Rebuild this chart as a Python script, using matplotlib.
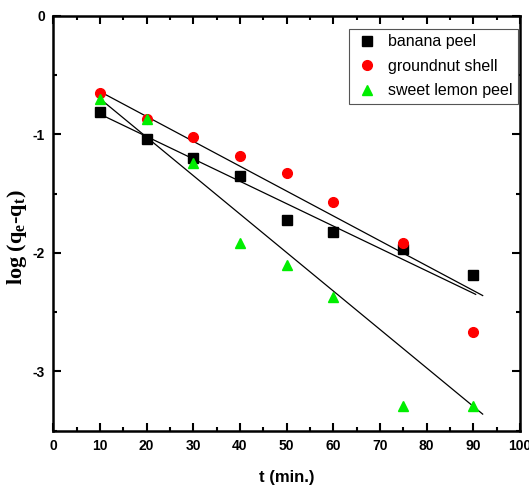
import numpy as np
import matplotlib.pyplot as plt
from matplotlib.ticker import MultipleLocator

plt.rcParams["axes.unicode_minus"] = False
plt.rcParams["mathtext.fontset"] = "custom"
plt.rcParams["mathtext.rm"] = "Liberation Serif:bold"
plt.rcParams["mathtext.it"] = "Liberation Serif:bold"

# time points (min)
t = [10, 20, 30, 40, 50, 60, 75, 90]

# log(qe-qt)
banana = [-0.81, -1.04, -1.20, -1.35, -1.72, -1.82, -1.97, -2.19]
groundnut = [-0.65, -0.87, -1.02, -1.18, -1.33, -1.57, -1.92, -2.67]
lemon = [-0.70, -0.87, -1.24, -1.92, -2.10, -2.37, -3.29, -3.29]

# fitted lines (start / end)
banana_fit_x = [10, 90.5]
banana_fit_y = [-0.83, -2.35]
groundnut_fit_x = [10, 92]
groundnut_fit_y = [-0.64, -2.36]
lemon_fit_x = [10, 92]
lemon_fit_y = [-0.70, -3.36]

fig = plt.figure(figsize=(5.29, 4.92), dpi=100)
ax = fig.add_axes([0.1008, 0.1246, 0.8822, 0.8434])

ax.plot(banana_fit_x, banana_fit_y, color="black", lw=0.9)
ax.plot(groundnut_fit_x, groundnut_fit_y, color="black", lw=0.9)
ax.plot(lemon_fit_x, lemon_fit_y, color="black", lw=0.9)

ax.plot(t, banana, "s", color="black", ms=6.5, label="banana peel", ls="none")
ax.plot(t, groundnut, "o", color="#ff0000", ms=7, label="groundnut shell", ls="none")
ax.plot(t, lemon, "^", color="#00ee00", ms=7.5, label="sweet lemon peel", ls="none")

ax.set_xlim(0, 100)
ax.set_ylim(-3.5, 0)
ax.xaxis.set_major_locator(MultipleLocator(10))
ax.xaxis.set_minor_locator(MultipleLocator(5))
ax.yaxis.set_major_locator(MultipleLocator(1))
ax.yaxis.set_minor_locator(MultipleLocator(0.5))

ax.tick_params(which="both", direction="in", top=True, right=True, width=1.5)
ax.tick_params(which="major", length=6, labelsize=10, pad=6)
ax.tick_params(which="minor", length=3)
for lbl in ax.get_xticklabels() + ax.get_yticklabels():
    lbl.set_fontweight("bold")
    lbl.set_family("Liberation Sans")
for sp in ax.spines.values():
    sp.set_linewidth(1.8)

ax.set_xlabel("t (min.)", fontsize=12, fontweight="bold", family="Liberation Sans", labelpad=12)
ax.set_ylabel("log (q$_\\mathrm{e}$-q$_\\mathrm{t}$)", fontsize=16, fontweight="bold",
              family="Liberation Serif", va="center")
ax.yaxis.set_label_coords(-0.078, 0.466)

leg = ax.legend(loc="upper right", bbox_to_anchor=(0.996, 0.969), fancybox=False,
                prop={"family": "Liberation Sans", "size": 11.5}, handletextpad=0.5,
                borderpad=0.35, labelspacing=0.6, handlelength=1.6, framealpha=1,
                borderaxespad=0)
leg.get_frame().set_edgecolor("#555555")
leg.get_frame().set_linewidth(0.8)

plt.savefig("out.png", dpi=100)
